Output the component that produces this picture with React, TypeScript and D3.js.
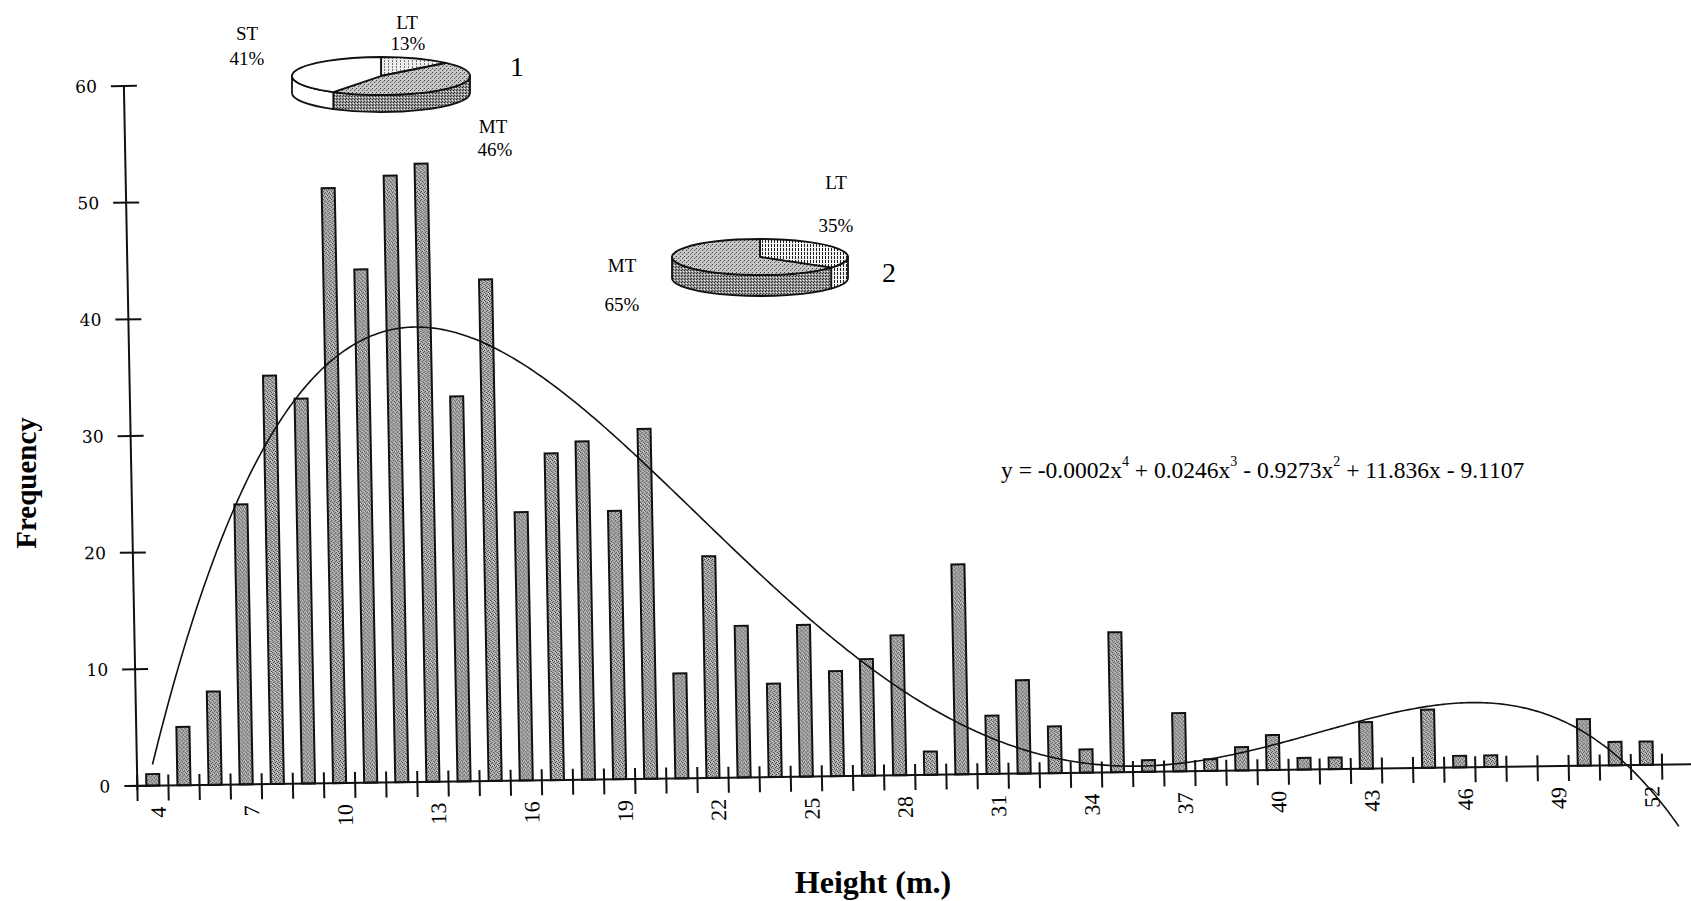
import React from 'react';
import * as d3 from 'd3';

// Tree height classes (m.) and the number of trees in each class
const HEIGHTS = [
  4, 5, 6, 7, 8, 9, 10, 11, 12, 13, 14, 15, 16, 17, 18, 19, 20, 21, 22, 23, 24, 25, 26, 27, 28,
  29, 30, 31, 32, 33, 34, 35, 36, 37, 38, 39, 40, 41, 42, 43, 44, 45, 46, 47, 48, 49, 50, 51, 52, 53,
];
const FREQUENCY = [
  1, 5, 8, 24, 35, 33, 51, 44, 52, 53,
  33, 43, 23, 28, 29, 23, 30, 9, 19, 13,
  8, 13, 9, 10, 12, 2, 18, 5, 8, 4,
  2, 12, 1, 5, 1, 2, 3, 1, 1, 4,
  0, 5, 1, 1, 0, 0, 4, 2, 2, 0,
];
const X_TICK_LABELS = [4, 7, 10, 13, 16, 19, 22, 25, 28, 31, 34, 37, 40, 43, 46, 49, 52];
const Y_TICKS = [0, 10, 20, 30, 40, 50, 60];

// 4th order polynomial trendline over the category positions 1..n
const TREND_DEGREE = 4;
const EQUATION = [
  { text: 'y = -0.0002x', sup: '4' },
  { text: ' + 0.0246x', sup: '3' },
  { text: ' - 0.9273x', sup: '2' },
  { text: ' + 11.836x - 9.1107', sup: '' },
];

// Storey shares (ST / MT / LT), clockwise from 12 o'clock
const PIE_1 = [
  { name: 'LT', pct: 13 },
  { name: 'MT', pct: 46 },
  { name: 'ST', pct: 41 },
];
const PIE_2 = [
  { name: 'LT', pct: 35 },
  { name: 'MT', pct: 65 },
];

const W = 1691;
const H = 901;
const PLOT = { left: 131, right: 1687, top: 76, bottom: 776 };
const SERIF = "'Liberation Serif', 'Times New Roman', serif";
const SERIF2 = "'DejaVu Serif', serif";

// slightly skewed frame: x axis climbs 0.8 deg, y axis leans 1.1 deg, pivot at (845, 450)
const skew = (() => {
  const ax = (0.8 * Math.PI) / 180;
  const ay = (1.1 * Math.PI) / 180;
  const a = Math.cos(ax);
  const b = -Math.sin(ax);
  const c = Math.sin(ay);
  const d = Math.cos(ay);
  const e = 845 - a * 845 - c * 450;
  const f = 450 - b * 845 - d * 450;
  return `matrix(${a} ${b} ${c} ${d} ${e} ${f})`;
})();

function fitPolynomial(xs: number[], ys: number[], degree: number) {
  const mid = (xs[0] + xs[xs.length - 1]) / 2;
  const half = (xs[xs.length - 1] - xs[0]) / 2;
  const n = degree + 1;
  const m: number[][] = Array.from({ length: n }, () => new Array(n + 1).fill(0));
  xs.forEach((xv, k) => {
    const t = (xv - mid) / half;
    const pw: number[] = [1];
    for (let i = 1; i < 2 * n; i++) pw.push(pw[i - 1] * t);
    for (let i = 0; i < n; i++) {
      for (let j = 0; j < n; j++) m[i][j] += pw[i + j];
      m[i][n] += pw[i] * ys[k];
    }
  });
  for (let c = 0; c < n; c++) {
    let piv = c;
    for (let r = c + 1; r < n; r++) if (Math.abs(m[r][c]) > Math.abs(m[piv][c])) piv = r;
    [m[c], m[piv]] = [m[piv], m[c]];
    for (let r = 0; r < n; r++) {
      if (r === c) continue;
      const f = m[r][c] / m[c][c];
      for (let k = c; k <= n; k++) m[r][k] -= f * m[c][k];
    }
  }
  const coef = m.map((row, i) => row[n] / row[i]);
  return (xv: number) => {
    const t = (xv - mid) / half;
    let r = 0;
    for (let i = n - 1; i >= 0; i--) r = r * t + coef[i];
    return r;
  };
}

type Slice = { name: string; pct: number };
type Fill = { top: string; side: string };

function Pie3D(props: {
  data: Slice[];
  cx: number;
  cy: number;
  rx: number;
  ry: number;
  depth: number;
  fills: Record<string, Fill>;
}) {
  const { data, cx, cy, rx, ry, depth, fills } = props;
  const arcs = d3.pie<Slice>().sort(null).value((d) => d.pct)(data);
  const pt = (a: number, dy = 0) => `${cx + rx * Math.sin(a)},${cy - ry * Math.cos(a) + dy}`;
  return (
    <g stroke="#111" strokeWidth={1.8} strokeLinejoin="round">
      {arcs.map((a, i) => {
        const s = Math.max(a.startAngle, Math.PI / 2);
        const e = Math.min(a.endAngle, (3 * Math.PI) / 2);
        if (s >= e) return null;
        const d = `M${pt(s)}A${rx},${ry} 0 0 1 ${pt(e)}L${pt(e, depth)}A${rx},${ry} 0 0 0 ${pt(s, depth)}Z`;
        return <path key={'s' + i} d={d} fill={fills[a.data.name].side} />;
      })}
      {arcs.map((a, i) => {
        const large = a.endAngle - a.startAngle > Math.PI ? 1 : 0;
        const d = `M${cx},${cy}L${pt(a.startAngle)}A${rx},${ry} 0 ${large} 1 ${pt(a.endAngle)}Z`;
        return <path key={'t' + i} d={d} fill={fills[a.data.name].top} />;
      })}
    </g>
  );
}

export default function App() {
  const x = d3
    .scaleBand<number>()
    .domain(HEIGHTS)
    .range([PLOT.left, PLOT.right])
    .paddingInner(0.58)
    .paddingOuter(0.29);
  const y = d3.scaleLinear().domain([0, 60]).range([PLOT.bottom, PLOT.top]);
  const step = x.step();
  const bw = x.bandwidth();
  const firstCenter = (x(HEIGHTS[0]) as number) + bw / 2;
  const posX = (i: number) => firstCenter + (i - 1) * step;

  const idx = HEIGHTS.map((_, i) => i + 1);
  const trend = fitPolynomial(idx, FREQUENCY, TREND_DEGREE);
  const samples = d3.range(1, HEIGHTS.length + 1e-9, 0.1);
  const trendPath = d3
    .line<number>()
    .x((t) => posX(t))
    .y((t) => y(trend(t)))(samples) as string;

  const boundaries = d3.range(HEIGHTS.length + 1).map((i) => PLOT.left + i * step);

  const pieFills1: Record<string, Fill> = {
    ST: { top: '#ffffff', side: '#ffffff' },
    MT: { top: 'url(#mtTop)', side: 'url(#mtSide)' },
    LT: { top: 'url(#ltLight)', side: 'url(#ltLight)' },
  };
  const pieFills2: Record<string, Fill> = {
    MT: { top: 'url(#mtTop)', side: 'url(#mtSide)' },
    LT: { top: 'url(#ltHatch)', side: 'url(#ltHatch)' },
  };

  const label = (t: string, lx: number, ly: number, size = 19) => (
    <text x={lx} y={ly} fontSize={size} textAnchor="middle" dominantBaseline="central">
      {t}
    </text>
  );

  return (
    <svg
      width={W}
      height={H}
      viewBox={`0 0 ${W} ${H}`}
      style={{ position: 'absolute', left: 0, top: 0, background: '#fff' }}
      fontFamily={SERIF}
    >
      <defs>
        <pattern id="barTex" width={4} height={4} patternUnits="userSpaceOnUse">
          <rect width={4} height={4} fill="#b4b4b4" />
          <rect x={0} y={0} width={1} height={1} fill="#2a2a2a" />
          <rect x={2} y={1} width={1} height={1} fill="#3a3a3a" />
          <rect x={1} y={2} width={1} height={1} fill="#444" />
          <rect x={3} y={3} width={1} height={1} fill="#333" />
          <rect x={3} y={0} width={1} height={1} fill="#f4f4f4" />
        </pattern>
        <pattern id="mtTop" width={4} height={4} patternUnits="userSpaceOnUse">
          <rect width={4} height={4} fill="#c8c8c8" />
          <rect x={0} y={0} width={1} height={1} fill="#3a3a3a" />
          <rect x={2} y={2} width={1} height={1} fill="#4a4a4a" />
          <rect x={3} y={1} width={1} height={1} fill="#888" />
        </pattern>
        <pattern id="mtSide" width={3} height={3} patternUnits="userSpaceOnUse">
          <rect width={3} height={3} fill="#959595" />
          <rect x={0} y={0} width={1} height={1} fill="#2a2a2a" />
          <rect x={1} y={2} width={1} height={1} fill="#3a3a3a" />
          <rect x={2} y={1} width={1} height={1} fill="#f0f0f0" />
        </pattern>
        <pattern id="ltLight" width={4} height={3} patternUnits="userSpaceOnUse">
          <rect width={4} height={3} fill="#eeeeee" />
          <rect x={0} y={0} width={1} height={2} fill="#777" />
        </pattern>
        <pattern id="ltHatch" width={3} height={4} patternUnits="userSpaceOnUse">
          <rect width={3} height={4} fill="#f4f4f4" />
          <rect x={0} y={0} width={1} height={3} fill="#222" />
        </pattern>
      </defs>

      {/* histogram, axes and trendline */}
      <g transform={skew}>
        {HEIGHTS.map((h, i) =>
          FREQUENCY[i] > 0 ? (
            <rect
              key={h}
              x={x(h)}
              y={y(FREQUENCY[i])}
              width={bw}
              height={y(0) - y(FREQUENCY[i])}
              fill="url(#barTex)"
              stroke="#111"
              strokeWidth={2}
            />
          ) : null
        )}

        <g stroke="#111" strokeWidth={2}>
          <line x1={PLOT.left} x2={PLOT.left} y1={y(60)} y2={y(0) + 4} />
          {Y_TICKS.map((t) => (
            <line key={t} x1={PLOT.left - 13} x2={PLOT.left + 13} y1={y(t)} y2={y(t)} />
          ))}
          <line x1={PLOT.left - 8} x2={W + 40} y1={y(0)} y2={y(0)} />
          {boundaries.map((bx, i) => (
            <line key={i} x1={bx} x2={bx} y1={y(0) - 11} y2={y(0) + 15} />
          ))}
        </g>

        {Y_TICKS.map((t) => (
          <text
            key={t}
            x={PLOT.left - 27}
            y={y(t)}
            fontSize={17}
            fontFamily={SERIF2}
            textAnchor="end"
            dominantBaseline="central"
          >
            {t}
          </text>
        ))}

        {X_TICK_LABELS.map((v) => (
          <text
            key={v}
            transform={`translate(${(x(v) as number) + bw / 2 + 5},${PLOT.bottom + 21}) rotate(-90)`}
            fontSize={22}
            textAnchor="end"
            dominantBaseline="central"
          >
            {v}
          </text>
        ))}

        <path d={trendPath} fill="none" stroke="#111" strokeWidth={1.6} />
      </g>

      {/* axis titles */}
      <text
        transform="translate(36,483) rotate(-90)"
        fontSize={29}
        fontWeight="bold"
        textAnchor="middle"
      >
        Frequency
      </text>
      <text x={873} y={893} fontSize={32} fontWeight="bold" textAnchor="middle">
        Height (m.)
      </text>

      {/* trendline equation */}
      <text x={1001} y={478} fontSize={23.5} style={{ whiteSpace: 'pre' }}>
        {EQUATION.map((seg, i) => (
          <React.Fragment key={i}>
            <tspan dy={i > 0 && EQUATION[i - 1].sup ? 12 : 0}>{seg.text}</tspan>
            {seg.sup ? (
              <tspan dy={-12} fontSize={14}>
                {seg.sup}
              </tspan>
            ) : null}
          </React.Fragment>
        ))}
      </text>

      {/* inset pie 1 */}
      <Pie3D data={PIE_1} cx={381} cy={76} rx={89} ry={19} depth={17} fills={pieFills1} />
      {label('ST', 247, 33)}
      {label(`${PIE_1[2].pct}%`, 247, 58)}
      {label('LT', 407, 22)}
      {label(`${PIE_1[0].pct}%`, 408, 43)}
      {label('MT', 493, 126)}
      {label(`${PIE_1[1].pct}%`, 495, 149)}
      {label('1', 517, 66, 28)}

      {/* inset pie 2 */}
      <Pie3D data={PIE_2} cx={760} cy={257} rx={88} ry={18} depth={21} fills={pieFills2} />
      {label('LT', 836, 182)}
      {label(`${PIE_2[0].pct}%`, 836, 225)}
      {label('MT', 622, 265)}
      {label(`${PIE_2[1].pct}%`, 622, 304)}
      {label('2', 889, 272, 28)}
    </svg>
  );
}
